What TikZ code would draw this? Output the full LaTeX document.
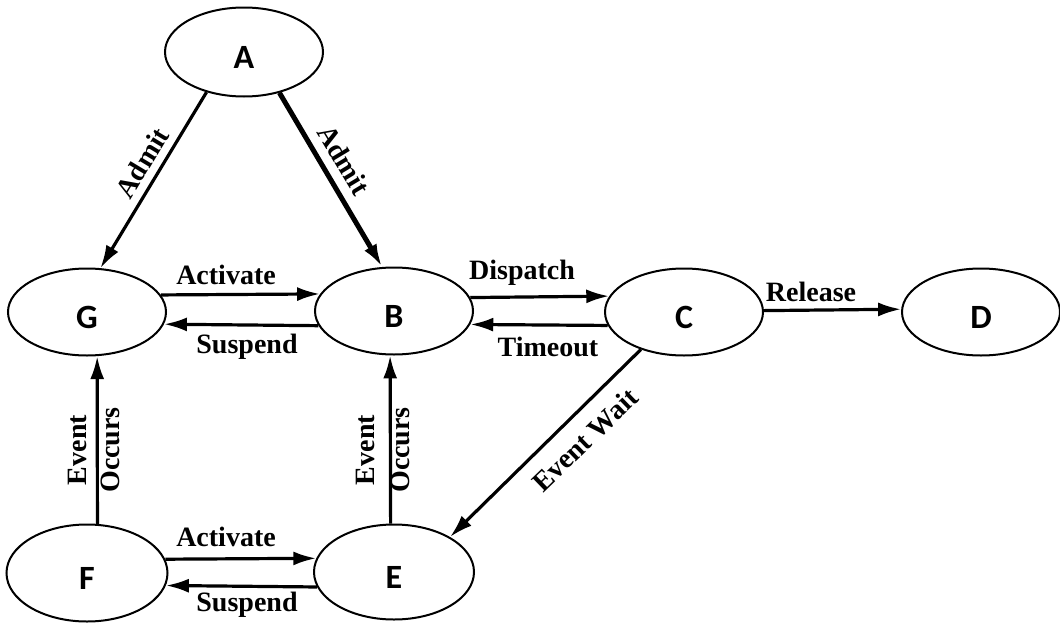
\documentclass[tikz,border=0pt]{standalone}
\usepackage{fontspec}
\setmainfont{Liberation Serif}
\newfontfamily\lettfont{Carlito}
\usetikzlibrary{shapes.geometric,arrows.meta}
\begin{document}
\begin{tikzpicture}[x=1pt,y=-1pt,
  state/.style={ellipse,draw,line width=2pt,minimum width=158pt,minimum height=87pt,
    inner sep=0pt,text height=32pt,text depth=0pt,
    font=\lettfont\bfseries\fontsize{34}{34}\selectfont},
  conn/.style={line width=3.2pt,-{Latex[length=23pt,width=14pt]}},
  lbl/.style={font=\bfseries\fontsize{28}{28}\selectfont,inner sep=0pt}]
\fill[white] (0,0) rectangle (1060,624);
\useasboundingbox (0,0) rectangle (1060,624);
% states
\node[state,minimum height=89pt] (A) at (244,52) {A};
\node[state] (G) at (87,312) {G};
\node[state] (B) at (394,311) {B};
\node[state] (C) at (684,312) {C};
\node[state] (D) at (981,312) {D};
\node[state,minimum width=161pt,minimum height=97pt] (F) at (87,573) {F};
\node[state,minimum width=160pt,minimum height=95pt] (E) at (394,572) {E};
% connectors
\draw[conn] (A.-133.6) -- (G.73.1);
\draw[conn,line width=5pt] (A.-49.6) -- (B.105.6);
\draw[conn] (G.13.2) -- (B.167.7);
\draw[conn] (B.-169.4) -- (G.-9.8);
\draw[conn] (B.10.6) -- (C.168.6);
\draw[conn] (C.-170.2) -- (B.-10.6);
\draw[conn] (C.1.5) -- (D.178.5);
\draw[conn] (C.-139.2) -- (E.32.2);
\draw[conn] (F.78.2) -- (G.-77);
\draw[conn] (E.94.8) -- (B.-95.3);
\draw[conn] (F.10.3) -- (E.170.4);
\draw[conn] (E.-169.6) -- (F.-9.5);
% labels
\node[lbl,rotate=59] (l1) at (142,163) {Admit};
\node[lbl,rotate=-59] (l2) at (344,160) {Admit};
\node[lbl] (l3) at (226,275) {Activate};
\node[lbl] (l4) at (247,347) {Suspend};
\node[lbl] (l5) at (522,273) {Dispatch};
\node[lbl] (l6) at (548,347) {Timeout};
\node[lbl] (l7) at (811,292) {Release};
\node[lbl,rotate=44] (l8) at (585,440) {Event Wait};
\node[lbl,rotate=90] (l9) at (77,450) {Event};
\node[lbl,rotate=90] (l10) at (110,450) {Occurs};
\node[lbl,rotate=90] (l11) at (365,450) {Event};
\node[lbl,rotate=90] (l12) at (400,450) {Occurs};
\node[lbl] (l13) at (226,537) {Activate};
\node[lbl] (l14) at (247,605) {Suspend};
\end{tikzpicture}
\end{document}
